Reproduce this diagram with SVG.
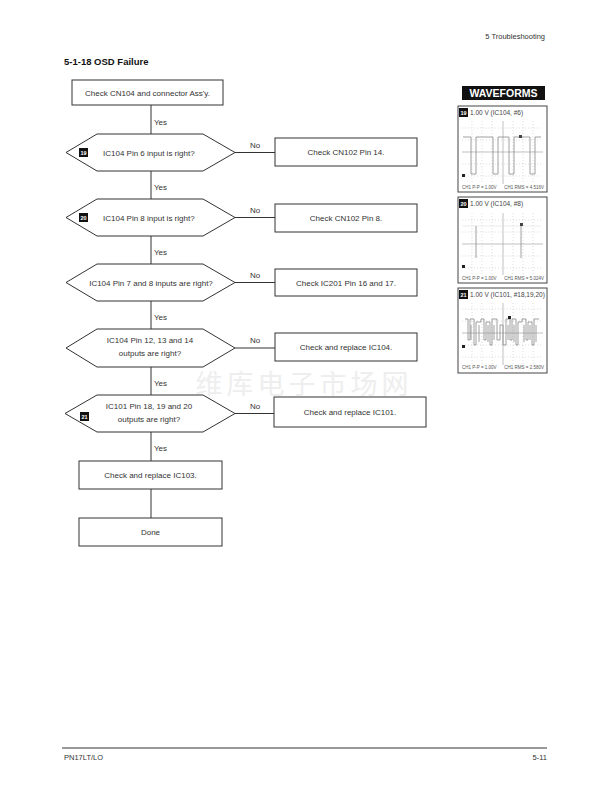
<svg xmlns="http://www.w3.org/2000/svg" width="612" height="792" viewBox="0 0 612 792">
<style>
text{font-family:"Liberation Sans",Arial,sans-serif;fill:#333}
.t{font-size:8px;text-anchor:middle}
.lbl{font-size:8px}
.box{fill:#fff;stroke:#333;stroke-width:1}
.ln{stroke:#333;stroke-width:1;fill:none}
.bd{fill:#111}
.bt{font-size:5.5px;font-weight:bold;fill:#fff;text-anchor:middle}
.pn{fill:#fff;stroke:#444;stroke-width:1}
.grid{stroke:#bbb;stroke-width:0.5;stroke-dasharray:1 2;fill:none}
.axis{stroke:#999;stroke-width:0.6;fill:none}
.wv{stroke:#888;stroke-width:0.8;fill:none}
.pt{font-size:6.5px;fill:#444}
.pl{font-size:4.5px;fill:#555}
</style>
<rect width="612" height="792" fill="#fff"/>
<text x="545" y="39" style="font-size:7.5px;text-anchor:end">5 Troubleshooting</text>
<text x="64" y="65" style="font-size:9.5px;font-weight:bold;fill:#111">5-1-18 OSD Failure</text>
<text x="304" y="394" style="font-family:'Noto Sans CJK SC',sans-serif;font-size:27px;fill:#eeeeee;text-anchor:middle;letter-spacing:4px">维库电子市场网</text>

<g id="connectors">
<path class="ln" d="M151,105V134 M151,171V199 M151,236V264 M151,301V329 M151,367V395 M151,432V461 M151,489V518"/>
<path class="ln" d="M235,152.5H275 M235,217.5H275 M235,282.5H275 M235,348H275 M235,413.5H274"/>
<text class="lbl" x="154" y="125">Yes</text>
<text class="lbl" x="154" y="190">Yes</text>
<text class="lbl" x="154" y="255">Yes</text>
<text class="lbl" x="154" y="320">Yes</text>
<text class="lbl" x="154" y="386">Yes</text>
<text class="lbl" x="154" y="451">Yes</text>
<text class="lbl" x="250" y="148">No</text>
<text class="lbl" x="250" y="213">No</text>
<text class="lbl" x="250" y="278">No</text>
<text class="lbl" x="250" y="343">No</text>
<text class="lbl" x="250" y="409">No</text>
</g>

<g id="start">
<rect class="box" x="72" y="80" width="151" height="25"/>
<text class="t" x="147.5" y="95.5">Check CN104 and connector Ass'y.</text>
</g>

<g id="q1">
<polygon class="box" points="66,152.5 97,134 203,134 235,152.5 203,171 97,171"/>
<rect class="bd" x="79" y="148" width="9" height="9"/>
<text class="bt" x="83.5" y="154.5">19</text>
<text class="lbl" x="103" y="155.5">IC104 Pin 6 input is right?</text>
</g>
<g id="a1">
<rect class="box" x="275" y="138" width="142" height="28"/>
<text class="t" x="346" y="155">Check CN102 Pin 14.</text>
</g>

<g id="q2">
<polygon class="box" points="66,217.5 97,199 203,199 235,217.5 203,236 97,236"/>
<rect class="bd" x="79" y="213" width="9" height="9"/>
<text class="bt" x="83.5" y="219.5">20</text>
<text class="lbl" x="103" y="220.5">IC104 Pin 8 input is right?</text>
</g>
<g id="a2">
<rect class="box" x="275" y="204" width="142" height="28"/>
<text class="t" x="346" y="221">Check CN102 Pin 8.</text>
</g>

<g id="q3">
<polygon class="box" points="66,282.5 97,264 203,264 235,282.5 203,301 97,301"/>
<text class="t" x="151" y="285.5">IC104 Pin 7 and 8 inputs are right?</text>
</g>
<g id="a3">
<rect class="box" x="275" y="269" width="142" height="27"/>
<text class="t" x="346" y="285.5">Check IC201 Pin 16 and 17.</text>
</g>

<g id="q4">
<polygon class="box" points="66,348 97,329 203,329 235,348 203,367 97,367"/>
<text class="t" x="150" y="343">IC104 Pin 12, 13 and 14</text>
<text class="t" x="150" y="356">outputs are right?</text>
</g>
<g id="a4">
<rect class="box" x="275" y="333" width="142" height="28"/>
<text class="t" x="346" y="350">Check and replace IC104.</text>
</g>

<g id="q5">
<polygon class="box" points="65,413.5 97,395 203,395 235,413.5 203,432 97,432"/>
<rect class="bd" x="80" y="412" width="9" height="9"/>
<text class="bt" x="84.5" y="418.5">21</text>
<text class="t" x="149" y="409">IC101 Pin 18, 19 and 20</text>
<text class="t" x="149" y="422">outputs are right?</text>
</g>
<g id="a5">
<rect class="box" x="274" y="397" width="152" height="30"/>
<text class="t" x="350" y="415">Check and replace IC101.</text>
</g>

<g id="ic103">
<rect class="box" x="79" y="461" width="143" height="28"/>
<text class="t" x="150.5" y="478">Check and replace IC103.</text>
</g>
<g id="done">
<rect class="box" x="79" y="518" width="143" height="28"/>
<text class="t" x="150.5" y="535">Done</text>
</g>

<g id="waveforms">
<rect x="462" y="86" width="83" height="14" fill="#111"/>
<text x="503.5" y="97" style="font-size:10.5px;font-weight:bold;fill:#fff;text-anchor:middle">WAVEFORMS</text>

<g id="wf19">
<rect class="pn" x="458" y="106" width="89" height="86"/>
<rect class="bd" x="459" y="108" width="9" height="9"/>
<text class="bt" x="463.5" y="114.5">19</text>
<text class="pt" x="470" y="115">1.00 V (IC104, #6)</text>
<path class="grid" d="M462,128H543 M462,140H543 M462,164H543 M462,176H543 M472,121V184 M482,121V184 M492,121V184 M513,121V184 M523,121V184 M533,121V184"/>
<path class="axis" d="M462,152H543 M503,121V184"/>
<path class="wv" d="M463,137H471V174H476V137H493V174H498V137H509V174H514V137H530V174H535V137H541"/>
<rect x="462" y="174" width="3" height="3" fill="#222"/>
<rect x="519" y="135" width="3" height="3" fill="#444"/>
<text class="pl" x="462" y="189">CH1 P-P = 1.00V</text>
<text class="pl" x="544" y="189" text-anchor="end">CH1 RMS = 4.516V</text>
</g>

<g id="wf20">
<rect class="pn" x="458" y="197" width="89" height="86"/>
<rect class="bd" x="459" y="199" width="9" height="9"/>
<text class="bt" x="463.5" y="205.5">20</text>
<text class="pt" x="470" y="206">1.00 V (IC104, #8)</text>
<path class="grid" d="M462,220H543 M462,232H543 M462,256H543 M462,268H543 M472,213V275 M482,213V275 M492,213V275 M513,213V275 M523,213V275 M533,213V275"/>
<path class="axis" d="M462,244H543 M503,213V275"/>
<path d="M462,226H541" stroke="#ddd" stroke-width="0.6"/>
<path class="wv" d="M476,226V258 M521,224V258" stroke-width="1"/>
<rect x="462" y="265" width="3" height="3" fill="#222"/>
<rect x="520" y="223" width="3" height="3" fill="#444"/>
<text class="pl" x="462" y="280">CH1 P-P = 1.00V</text>
<text class="pl" x="544" y="280" text-anchor="end">CH1 RMS = 5.024V</text>
</g>

<g id="wf21">
<rect class="pn" x="458" y="288" width="89" height="85"/>
<rect class="bd" x="459" y="290" width="9" height="9"/>
<text class="bt" x="463.5" y="296.5">21</text>
<text class="pt" x="470" y="297">1.00 V (IC101, #18,19,20)</text>
<path class="grid" d="M462,309H543 M462,321H543 M462,345H543 M462,357H543 M472,303V365 M482,303V365 M492,303V365 M513,303V365 M523,303V365 M533,303V365"/>
<path class="axis" d="M462,333H543 M503,303V365"/>
<path class="wv" d="M465,319H468V340H470V319H474V345H476V322H481V319H484V340H486V322H490V345H492V319H497V340H500V325H503V345H506V319H510V340H512V319H516V345H518V322H522V319H526V340H528V322H532V345H534V319H539"/>
<path class="wv" d="M471,325V340 M479,325V342 M488,325V342 M494,325V340 M508,325V340 M514,325V342 M524,325V342 M530,325V340 M536,325V342" stroke-width="0.5"/>
<rect x="462" y="345" width="3" height="3" fill="#222"/>
<rect x="508" y="316" width="3" height="3" fill="#222"/>
<text class="pl" x="462" y="369">CH1 P-P = 1.00V</text>
<text class="pl" x="544" y="369" text-anchor="end">CH1 RMS = 2.580V</text>
</g>
</g>

<path d="M62,748H547" stroke="#333" stroke-width="1"/>
<text x="64" y="760" style="font-size:7.5px">PN17LT/LO</text>
<text x="547" y="760" style="font-size:7.5px;text-anchor:end">5-11</text>
</svg>
